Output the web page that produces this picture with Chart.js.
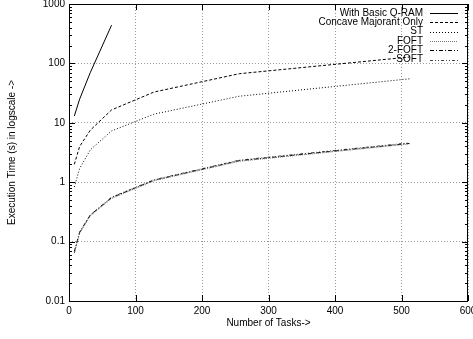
<!DOCTYPE html>
<html>
<head>
<meta charset="utf-8">
<script src="https://cdn.jsdelivr.net/npm/chart.js@4/dist/chart.umd.min.js"></script>
<style>
  html, body { margin: 0; padding: 0; background: #fff; }
  canvas { display: block; }
</style>
</head>
<body>
<canvas id="chart" width="473" height="339"></canvas>
<script>
// number of tasks on the x axis
const tasks = [8, 16, 32, 64, 128, 256, 512];
const qramTasks = [8, 16, 32, 64];

// execution time (s)
const basicQram = [13, 25, 70, 440];
const concaveOnly = [2.0, 4.0, 7.5, 16.5, 33, 67, 128];
const stTimes = [0.83, 1.7, 3.5, 7.3, 14, 28, 55];
const foftTimes = [0.066, 0.14, 0.27, 0.53, 1.06, 2.25, 4.4];
const twoFoftTimes = [0.068, 0.145, 0.28, 0.55, 1.08, 2.3, 4.5];
const softTimes = [0.064, 0.14, 0.28, 0.56, 1.1, 2.35, 4.6];

const yMajor = [0.01, 0.1, 1, 10, 100, 1000];
const xMajor = [0, 100, 200, 300, 400, 500, 600];

const FONT = "'Liberation Sans', Arial, sans-serif";

function pts(xs, ys) {
  return ys.map((y, i) => ({ x: xs[i], y: y }));
}

const series = [
  { label: "With Basic Q-RAM", data: pts(qramTasks, basicQram), color: "#000", dash: [] },
  { label: "Concave Majorant Only", data: pts(tasks, concaveOnly), color: "#000", dash: [3, 2] },
  { label: "ST", data: pts(tasks, stTimes), color: "#000", dash: [1, 2] },
  { label: "FOFT", data: pts(tasks, foftTimes), color: "#777", dash: [1, 1] },
  { label: "2-FOFT", data: pts(tasks, twoFoftTimes), color: "#000", dash: [4, 2, 1, 2] },
  { label: "SOFT", data: pts(tasks, softTimes), color: "#444", dash: [3, 2, 1, 2, 1, 2] },
];

// gnuplot-like frame, inward ticks and the key in the top right corner
const framePlugin = {
  id: "frame",
  afterDatasetsDraw(chart) {
    const ctx = chart.ctx;
    const a = chart.chartArea;
    const ys = chart.scales.y;
    const xs = chart.scales.x;
    ctx.save();
    ctx.strokeStyle = "#000";
    ctx.lineWidth = 1;
    ctx.setLineDash([]);
    ctx.strokeRect(a.left + 0.5, a.top + 0.5, a.right - a.left - 1, a.bottom - a.top);

    ctx.beginPath();
    // y major and minor ticks
    for (let d = 0; d < yMajor.length; d++) {
      const v = yMajor[d];
      const py = Math.round(ys.getPixelForValue(v)) + 0.5;
      ctx.moveTo(a.left, py); ctx.lineTo(a.left + 6, py);
      ctx.moveTo(a.right, py); ctx.lineTo(a.right - 6, py);
      if (d < yMajor.length - 1) {
        for (let k = 2; k <= 9; k++) {
          const my = Math.round(ys.getPixelForValue(v * k)) + 0.5;
          ctx.moveTo(a.left, my); ctx.lineTo(a.left + 3, my);
          ctx.moveTo(a.right, my); ctx.lineTo(a.right - 3, my);
        }
      }
    }
    // x ticks
    xMajor.forEach(v => {
      const px = Math.round(xs.getPixelForValue(v)) + 0.5;
      ctx.moveTo(px, a.bottom); ctx.lineTo(px, a.bottom - 6);
      ctx.moveTo(px, a.top); ctx.lineTo(px, a.top + 6);
    });
    ctx.stroke();

    // key
    ctx.font = "10px " + FONT;
    ctx.textAlign = "right";
    ctx.textBaseline = "middle";
    const textRight = a.right - 45;
    series.forEach((s, i) => {
      const y = a.top + 9 + i * 9.3;
      ctx.fillStyle = "#000";
      ctx.fillText(s.label, textRight, y);
      ctx.beginPath();
      ctx.strokeStyle = s.color;
      ctx.setLineDash(s.dash);
      ctx.moveTo(textRight + 7, Math.round(y) + 0.5);
      ctx.lineTo(textRight + 35, Math.round(y) + 0.5);
      ctx.stroke();
    });
    ctx.restore();
  }
};

new Chart(document.getElementById("chart"), {
  type: "line",
  data: {
    datasets: series.map(s => ({
      label: s.label,
      data: s.data,
      borderColor: s.color,
      borderDash: s.dash,
      borderWidth: 1,
      pointRadius: 0,
      tension: 0,
      fill: false,
    }))
  },
  options: {
    responsive: false,
    animation: false,
    layout: { padding: { top: 4, right: 5, left: 0, bottom: 0 } },
    plugins: {
      legend: { display: false },
      tooltip: { enabled: false },
    },
    scales: {
      x: {
        type: "linear",
        min: 0,
        max: 600,
        afterBuildTicks: scale => { scale.ticks = xMajor.map(v => ({ value: v })); },
        afterFit: scale => { scale.height = 38; scale.paddingLeft = 0; scale.paddingRight = 0; },
        ticks: { color: "#000", font: { family: FONT, size: 10 }, padding: 4, maxRotation: 0 },
        grid: { color: "#999", lineWidth: 1, drawTicks: false },
        border: { display: false, dash: [1, 2] },
        title: {
          display: true,
          text: "Number of Tasks->",
          color: "#000",
          font: { family: FONT, size: 10 },
          padding: { top: 0, bottom: 10 },
        },
      },
      y: {
        type: "logarithmic",
        min: 0.01,
        max: 1000,
        afterBuildTicks: scale => { scale.ticks = yMajor.map(v => ({ value: v })); },
        afterFit: scale => { scale.width = 69; scale.paddingTop = 0; scale.paddingBottom = 0; },
        ticks: {
          color: "#000",
          font: { family: FONT, size: 10 },
          padding: 4,
          callback: v => String(v),
        },
        grid: { color: "#999", lineWidth: 1, drawTicks: false },
        border: { display: false, dash: [1, 2] },
        title: {
          display: true,
          text: "Execution Time (s) in logscale ->",
          color: "#000",
          font: { family: FONT, size: 10 },
          padding: { top: 6, bottom: 0 },
        },
      },
    },
  },
  plugins: [framePlugin],
});
</script>
</body>
</html>
